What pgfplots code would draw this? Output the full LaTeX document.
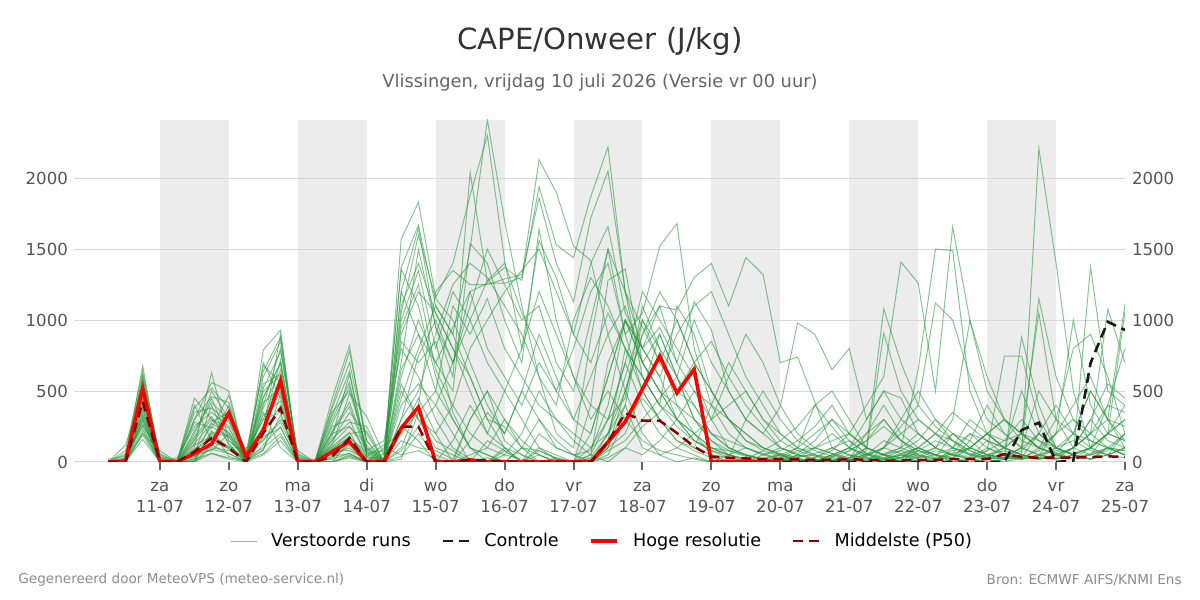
\documentclass[border=0pt]{standalone}
\usepackage{fontspec}
\setmainfont{DejaVu Sans}
\usepackage{pgfplots}
\usepackage{pgfplotstable}
\pgfplotsset{compat=1.18}
\definecolor{ens}{RGB}{40,150,60}
\definecolor{band}{RGB}{236,236,236}
\definecolor{gridc}{RGB}{215,215,215}
\definecolor{ticklab}{RGB}{85,85,85}
\definecolor{p50c}{RGB}{140,0,0}
\definecolor{titlec}{RGB}{51,51,51}
\definecolor{subc}{RGB}{100,100,100}
\definecolor{footc}{RGB}{140,140,140}

\pgfplotstableread{
x m1 m2 m3 m4 m5 m6 m7 m8 m9 m10 m11 m12 m13 m14 m15 m16 m17 m18 m19 m20 m21 m22 m23 m24 m25 m26 m27 m28 m29 m30
0.25 0 0 0 0 0 0 0 0 0 0 0 0 0 20 0 0 0 0 0 0 0 0 10 0 0 0 0 0 0 0
0.5 10 0 30 0 20 0 0 50 0 0 120 0 10 40 0 0 20 0 0 5 0 30 0 60 0 10 0 0 80 0
0.75 680 520 610 450 400 300 350 250 200 560 480 380 330 270 160 600 420 500 290 230 330 440 210 580 370 260 470 190 640 310
1.0 0 10 0 30 0 0 5 0 80 0 20 0 0 40 0 10 0 60 0 0 10 0 0 20 0 50 0 0 30 0
1.25 0 0 0 0 10 0 0 30 0 0 0 0 0 0 20 0 0 0 0 0 0 0 0 0 0 0 10 0 0 0
1.5 450 100 300 20 400 50 0 250 150 80 350 0 200 120 30 0 180 60 10 280 90 220 40 380 0 160 300 70 20 130
1.75 300 630 560 200 150 400 100 350 500 250 380 60 450 180 280 120 320 80 220 240 160 420 90 520 210 300 460 140 60 270
2.0 200 150 500 100 400 120 80 250 300 180 280 20 150 90 350 60 130 200 40 470 110 300 60 380 180 240 420 100 30 210
2.25 0 50 0 100 20 0 30 0 60 0 10 0 40 0 80 0 0 20 0 0 20 0 0 70 0 0 50 0 10 30
2.5 790 300 600 150 450 700 100 520 250 380 200 50 680 400 300 120 550 80 230 350 420 250 160 640 90 500 330 180 60 460
2.75 930 600 850 300 700 450 200 780 500 650 400 150 560 800 350 250 620 480 900 100 520 720 280 880 330 610 430 240 180 690
3.0 0 30 0 80 0 10 0 50 0 0 20 0 0 60 0 0 0 40 0 0 0 0 30 0 0 20 0 10 0 0
3.25 0 0 10 0 0 0 0 0 20 0 0 0 0 0 0 0 0 0 0 0 0 0 0 0 0 0 0 0 0 0
3.5 450 120 300 200 60 400 0 250 100 180 0 80 350 30 150 0 220 90 40 130 210 60 380 110 270 20 160 330 0 90
3.75 820 480 560 250 100 780 50 300 200 620 150 80 500 120 350 30 420 180 60 250 390 150 700 210 530 60 280 640 40 170
4.0 100 320 50 80 0 150 0 30 220 60 0 20 100 0 200 0 80 40 0 120 60 30 150 0 90 0 250 40 0 70
4.25 0 50 0 150 0 0 30 0 0 80 0 0 20 0 0 100 0 0 10 0 0 20 0 60 0 0 0 120 0 0
4.5 1570 1370 1000 800 200 700 1200 500 300 950 100 40 600 250 850 50 400 150 1100 20 650 1050 300 1360 80 900 450 200 1200 550
4.75 1830 1670 1350 600 450 1500 900 300 750 1250 400 200 1000 150 700 80 550 100 1400 350 900 1600 500 1100 250 1200 800 350 1650 300
5.0 1160 1100 800 300 200 950 500 100 1000 650 1200 50 700 0 850 20 400 80 1050 150 700 1150 900 600 400 1050 1100 500 950 200
5.25 1400 900 1200 100 0 600 300 50 700 400 1350 0 500 150 350 0 200 20 800 80 950 1000 1250 300 700 800 900 1100 700 400
5.5 1880 1500 1000 20 300 2040 100 0 1200 200 1250 150 1540 400 100 50 0 300 600 0 1200 700 1400 100 1000 500 600 900 1100 800
5.75 2300 2410 700 0 500 1270 50 0 1260 100 1250 350 1400 200 0 100 150 500 300 30 800 400 1300 50 1280 200 300 1150 1500 1000
6.0 1420 1700 500 100 300 1370 0 80 1260 50 1290 200 1000 100 50 300 80 150 250 0 600 200 1100 0 1400 500 100 800 1250 1200
6.25 800 1100 300 0 100 1280 100 0 1300 20 1320 500 700 0 200 150 0 50 100 10 400 500 900 100 1050 800 50 600 1000 1350
6.5 1560 600 100 50 0 1940 300 100 2130 0 1860 300 1640 80 500 50 200 0 80 0 700 900 600 50 800 1200 0 400 1100 1500
6.75 1300 200 50 0 30 1530 150 20 1900 0 1400 100 1000 20 300 0 100 10 30 0 500 600 400 0 500 900 20 300 700 1200
7.0 900 100 0 10 0 1440 50 0 1520 0 1130 50 600 0 150 0 50 0 0 0 300 300 1000 10 800 600 0 200 500 900
7.25 1400 870 400 0 50 1870 0 0 1420 20 1720 80 300 0 50 100 0 30 200 0 600 200 1300 0 1200 400 50 100 1000 700
7.5 1660 1500 1280 100 300 2220 200 50 900 150 2050 400 500 100 0 300 80 200 600 30 900 600 1100 100 1400 300 700 200 1500 1050
7.75 1050 900 1360 500 700 1200 600 300 500 800 1200 1000 300 200 100 450 150 400 1000 100 1100 1000 800 400 900 700 1000 500 1200 800
8.0 800 1050 700 900 400 800 1000 450 200 600 950 700 150 500 50 1100 300 100 800 250 700 800 600 1000 500 1200 700 900 600 500
8.25 950 1520 500 1100 200 600 700 300 50 400 700 500 80 900 150 800 450 50 600 350 500 1100 400 800 300 1000 900 1200 400 300
8.5 700 1680 300 1070 100 900 500 150 0 250 1000 300 50 600 300 400 600 100 300 500 400 700 1100 600 200 800 600 1000 300 150
8.75 1130 800 200 1300 50 1100 400 80 30 150 700 150 20 300 500 200 400 200 150 700 300 500 900 1000 100 600 300 700 200 100
9.0 930 400 100 1400 0 1200 200 30 0 100 500 80 0 150 400 50 200 300 80 850 200 300 500 700 400 300 150 500 100 50
9.25 500 300 50 1100 20 900 100 0 50 50 300 30 10 80 200 0 100 400 50 600 150 600 300 500 700 100 50 300 80 30
9.5 300 200 0 1440 0 600 50 20 100 20 150 0 0 40 100 30 50 500 20 400 100 900 200 300 500 50 20 150 50 300
9.75 200 100 10 1320 50 400 20 0 60 0 80 10 30 20 50 0 20 300 0 250 50 700 100 200 300 20 80 100 20 500
10.0 390 50 30 700 100 200 0 50 20 10 40 0 0 60 20 10 0 150 30 100 80 400 60 100 200 50 150 50 10 300
10.25 980 20 100 740 50 100 30 0 80 0 20 40 10 30 0 50 10 80 0 60 150 200 30 50 100 100 250 20 50 150
10.5 900 10 400 425 30 50 0 20 100 30 0 50 0 100 10 20 0 40 20 150 250 100 60 20 50 200 400 0 100 80
10.75 650 0 500 100 80 20 50 0 60 100 10 0 40 200 50 0 30 10 0 300 400 60 100 0 30 300 250 50 150 40
11.0 800 30 300 50 200 0 100 30 20 150 0 20 80 100 20 10 0 50 10 200 200 30 50 80 100 150 100 100 200 20
11.25 300 100 100 20 400 50 30 80 0 60 40 200 150 50 0 100 20 0 60 100 100 50 30 150 300 60 50 200 100 0
11.5 500 1080 50 0 600 150 0 908 50 20 100 400 300 100 30 50 60 20 0 50 50 100 20 250 500 30 20 300 50 100
11.75 450 700 0 30 1410 100 50 500 100 0 60 200 150 300 20 0 100 50 30 80 30 200 60 150 300 80 50 150 30 250
12.0 200 400 80 100 1260 50 20 300 650 40 30 100 80 500 50 30 200 0 100 40 80 300 100 50 200 150 100 80 60 400
12.25 100 1120 50 50 500 30 0 200 1500 100 80 50 30 300 0 50 100 20 200 20 150 200 50 20 100 300 200 50 100 250
12.5 50 1000 30 0 1655 20 50 100 1490 300 50 20 200 150 100 0 50 80 150 60 100 100 30 60 50 200 350 100 200 150
12.75 30 600 150 20 1000 100 20 50 500 996 40 0 100 50 200 30 20 100 80 100 50 60 100 200 100 150 250 300 100 80
13.0 100 300 400 50 500 200 80 30 200 600 150 40 50 20 100 50 0 200 30 50 80 30 200 150 200 50 150 200 50 30
13.25 50 200 200 100 300 300 746 20 100 300 100 20 30 0 50 80 20 100 50 30 150 20 300 50 100 30 100 150 30 100
13.5 20 100 100 500 150 200 746 50 50 200 200 880 20 30 100 30 50 50 20 20 200 80 200 30 50 100 50 300 100 200
13.75 50 1150 50 200 100 1050 300 2210 30 100 100 400 50 20 50 200 20 30 100 50 100 200 100 80 30 200 20 150 500 150
14.0 100 600 30 100 200 300 100 1400 20 300 50 100 20 50 200 100 50 20 50 80 50 100 60 200 100 400 50 100 300 60
14.25 200 300 100 50 1000 100 50 500 50 800 100 50 100 20 400 50 100 50 30 60 30 50 200 300 150 200 100 50 200 30
14.5 500 200 200 20 400 50 20 100 1376 900 200 20 300 100 600 20 200 100 50 100 60 100 500 150 80 100 300 100 150 50
14.75 300 400 100 50 200 200 100 50 500 600 300 50 550 200 300 100 1077 200 100 50 100 200 300 100 50 400 150 200 100 80
15.0 100 800 50 100 150 300 50 30 400 200 1112 100 450 1060 250 50 700 300 80 200 200 150 150 50 100 350 100 400 80 200
}\enstab

\pgfplotsset{
  base/.style={
    at={(36.875pt,69pt)}, anchor=south west, scale only axis,
    width=525.625pt, height=171pt,
    xmin=-0.25, xmax=15, ymin=0, ymax=2410,
  },
  enssty/.style={color=ens, opacity=0.55, line width=0.5pt},
  ticklabfont/.style={font=\fontsize{8.3}{10.5}\selectfont, color=ticklab},
}

\begin{document}
\begin{tikzpicture}
\path[use as bounding box] (0pt,0pt) rectangle (600pt,300pt);

% background bands
\begin{axis}[base, hide axis]
\fill[band] (axis cs:1,0) rectangle (axis cs:2,2410);
\fill[band] (axis cs:3,0) rectangle (axis cs:4,2410);
\fill[band] (axis cs:5,0) rectangle (axis cs:6,2410);
\fill[band] (axis cs:7,0) rectangle (axis cs:8,2410);
\fill[band] (axis cs:9,0) rectangle (axis cs:10,2410);
\fill[band] (axis cs:11,0) rectangle (axis cs:12,2410);
\fill[band] (axis cs:13,0) rectangle (axis cs:14,2410);
\addplot[draw=none, forget plot] coordinates {(0,0)};
\end{axis}

% main axis
\begin{axis}[base,
  axis line style={draw=none},
  ytick={0,500,1000,1500,2000},
  ymajorgrids, grid style={color=gridc, line width=0.5pt},
  xtick={1,2,3,4,5,6,7,8,9,10,11,12,13,14,15},
  xticklabels={{\strut za\\11-07},{\strut zo\\12-07},{\strut ma\\13-07},{\strut di\\14-07},{\strut wo\\15-07},{\strut do\\16-07},{\strut vr\\17-07},{\strut za\\18-07},{\strut zo\\19-07},{\strut ma\\20-07},{\strut di\\21-07},{\strut wo\\22-07},{\strut do\\23-07},{\strut vr\\24-07},{\strut za\\25-07}},
  xtick pos=bottom, ytick pos=left,
  tick align=outside, major tick length=4pt,
  x tick style={color=black!60, line width=1pt},
  y tick style={draw=none},
  tick label style={ticklabfont},
  xticklabel style={align=center, yshift=0pt},
  yticklabel style={/pgf/number format/1000 sep={}, xshift=4.6pt},
  /pgf/number format/assume math mode=true,
  scaled y ticks=false,
  legend columns=4,
  legend cell align=left,
  legend style={at={(0.5035,-0.231)}, anchor=center, draw=none, fill=none,
    font=\fontsize{8.8}{10}\selectfont,
    /tikz/every even column/.append style={column sep=13.5pt}},
  legend image code/.code={\draw[#1] (0pt,0pt) -- (13pt,0pt); \path (18pt,0pt);},
]
\draw[gridc, line width=0.5pt] (axis cs:15,0) -- (axis cs:15,2410);
\addplot[enssty] table[x=x, y=m1] {\enstab};
\addlegendentry{Verstoorde runs}
\pgfplotsinvokeforeach{2,...,30}{
  \addplot[enssty, forget plot] table[x=x, y=m#1] {\enstab};
}
\addplot[color={rgb,255:red,25;green,25;blue,25}, line width=1.3pt, dash pattern=on 5pt off 3pt] coordinates {
(0.25,0)(0.5,5)(0.75,519)(1.0,0)(1.25,0)(1.5,60)(1.75,127)(2.0,347)(2.25,38)(2.5,225)(2.75,573)(3.0,0)
(3.25,0)(3.5,73)(3.75,143)(4.0,0)(4.25,0)(4.5,239)(4.75,387)(5.0,0)(5.25,0)(5.5,15)(5.75,0)(6.0,0)
(6.25,0)(6.5,0)(6.75,0)(7.0,0)(7.25,0)(7.5,141)(7.75,284)(8.0,515)(8.25,746)(8.5,486)(8.75,655)(9.0,0)
(9.25,0)(9.5,0)(9.75,0)(10.0,0)(10.25,0)(10.5,0)(10.75,0)(11.0,0)(11.25,0)(11.5,0)(11.75,0)(12.0,0)
(12.25,0)(12.5,0)(12.75,0)(13.0,0)(13.25,0)(13.5,225)(13.75,277)(14.0,0)(14.25,10)(14.5,697)(14.75,988)(15.0,930)
};
\addlegendentry{Controle}
\addplot[color=red, line width=1.75pt] coordinates {
(0.25,0)(0.5,5)(0.75,519)(1.0,0)(1.25,0)(1.5,60)(1.75,127)(2.0,347)(2.25,38)(2.5,225)(2.75,573)(3.0,0)
(3.25,0)(3.5,73)(3.75,143)(4.0,0)(4.25,0)(4.5,239)(4.75,387)(5.0,0)(5.25,0)(5.5,15)(5.75,0)(6.0,0)
(6.25,0)(6.5,0)(6.75,0)(7.0,0)(7.25,0)(7.5,141)(7.75,284)(8.0,515)(8.25,746)(8.5,486)(8.75,655)(9.0,0)
(9.25,0)(9.5,0)(9.75,0)(10.0,0)
};
\addlegendentry{Hoge resolutie}
\addplot[color=p50c, line width=1.25pt, dash pattern=on 5pt off 3pt] coordinates {
(0.25,0)(0.5,0)(0.75,425)(1.0,0)(1.25,0)(1.5,73)(1.75,169)(2.0,99)(2.25,0)(2.5,204)(2.75,378)(3.0,0)
(3.25,0)(3.5,40)(3.75,169)(4.0,0)(4.25,0)(4.5,249)(4.75,249)(5.0,0)(5.25,0)(5.5,15)(5.75,10)(6.0,5)
(6.25,0)(6.5,0)(6.75,0)(7.0,0)(7.25,0)(7.5,140)(7.75,345)(8.0,291)(8.25,291)(8.5,204)(8.75,108)(9.0,38)
(9.25,30)(9.5,25)(9.75,20)(10.0,20)(10.25,18)(10.5,15)(10.75,15)(11.0,20)(11.25,15)(11.5,10)(11.75,10)(12.0,15)
(12.25,15)(12.5,20)(12.75,20)(13.0,20)(13.25,55)(13.5,35)(13.75,30)(14.0,30)(14.25,30)(14.5,35)(14.75,40)(15.0,35)
};
\addlegendentry{Middelste (P50)}
\end{axis}

% right-hand labels
\begin{axis}[base,
  axis line style={draw=none},
  axis y line*=right, axis x line=none,
  ytick={0,500,1000,1500,2000},
  y tick style={draw=none},
  tick label style={ticklabfont},
  /pgf/number format/assume math mode=true,
  scaled y ticks=false,
  yticklabel style={/pgf/number format/1000 sep={}},
]
\addplot[draw=none, forget plot] coordinates {(0,0)};
\end{axis}

\node[font=\fontsize{14.6}{17}\selectfont, text=titlec] at (300pt,279.5pt) {CAPE/Onweer (J/kg)};
\node[font=\fontsize{8.9}{10}\selectfont, text=subc] at (300pt,258.5pt) {Vlissingen, vrijdag 10 juli 2026 (Versie vr 00 uur)};
\node[font=\fontsize{6.8}{8}\selectfont, text=footc, anchor=west, inner sep=0pt] at (9pt,10pt) {Gegenereerd door MeteoVPS (meteo-service.nl)};
\node[font=\fontsize{6.8}{8}\selectfont, text=footc, anchor=east, inner sep=0pt] at (591pt,10pt) {Bron: ECMWF AIFS/KNMI Ens};
\end{tikzpicture}
\end{document}
